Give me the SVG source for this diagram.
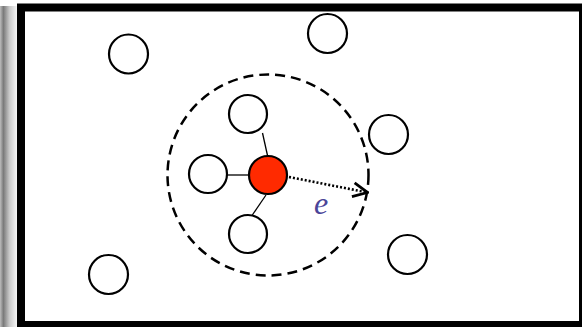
<svg xmlns="http://www.w3.org/2000/svg" width="582" height="327" viewBox="0 0 582 327">
  <defs>
    <linearGradient id="shadow" x1="0" y1="0" x2="1" y2="0">
      <stop offset="0" stop-color="#bdbdbd"/>
      <stop offset="0.2" stop-color="#7a7a7a"/>
      <stop offset="0.55" stop-color="#c8c8c8"/>
      <stop offset="1" stop-color="#f6f6f6"/>
    </linearGradient>
    <marker id="arrow" viewBox="0 0 18 18" refX="16.5" refY="9" markerWidth="18" markerHeight="18" markerUnits="userSpaceOnUse" orient="auto">
      <path d="M2,2 L16.5,9 L2,16" fill="none" stroke="#000" stroke-width="2.8" stroke-linejoin="miter"/>
    </marker>
    <style>
      .node { fill: #fff; stroke: #000; stroke-width: 2.2; }
      .center { fill: #ff2a00; stroke: #000; stroke-width: 2.2; }
      .edge { stroke: #000; stroke-width: 1.3; fill: none; }
      .range { fill: none; stroke: #000; stroke-width: 2.5; stroke-dasharray: 10 6; }
      .radius { stroke: #000; stroke-width: 2.6; stroke-dasharray: 2 2; fill: none; }
      .label { font-family: "Liberation Serif", serif; font-style: italic; font-size: 32px; fill: #4a4598; }
    </style>
  </defs>

  <rect x="0" y="0" width="582" height="327" fill="#fff"/>
  <rect x="0" y="6" width="17" height="321" fill="url(#shadow)"/>
  <rect x="21" y="7.5" width="562" height="317.5" fill="#fff" stroke="#000" stroke-width="8"/>

  <g id="range">
    <circle class="range" cx="268" cy="175" r="100.5"/>
  </g>

  <g id="connectors">
    <line class="edge" x1="267.5" y1="155.5" x2="262.5" y2="133"/>
    <line class="edge" x1="249" y1="175" x2="227" y2="175"/>
    <line class="edge" x1="266" y1="195" x2="252" y2="215.5"/>
    <line class="radius" x1="289" y1="177" x2="367.5" y2="192.5" marker-end="url(#arrow)"/>
  </g>

  <g id="node-center"><circle class="center" cx="268" cy="175" r="19"/></g>
  <g id="node-inner-top"><circle class="node" cx="248" cy="114" r="19"/></g>
  <g id="node-inner-left"><circle class="node" cx="208" cy="174" r="19"/></g>
  <g id="node-inner-bottom"><circle class="node" cx="248" cy="234" r="19"/></g>
  <g id="node-top-left"><circle class="node" cx="128.5" cy="54" r="19.5"/></g>
  <g id="node-top"><circle class="node" cx="327.5" cy="33.5" r="19.5"/></g>
  <g id="node-right"><circle class="node" cx="388.5" cy="134.5" r="19.5"/></g>
  <g id="node-bottom-right"><circle class="node" cx="407.5" cy="254.5" r="19.5"/></g>
  <g id="node-bottom-left"><circle class="node" cx="108.5" cy="274.5" r="19.5"/></g>

  <g id="label-e">
    <text class="label" x="314" y="214">e</text>
  </g>
</svg>
